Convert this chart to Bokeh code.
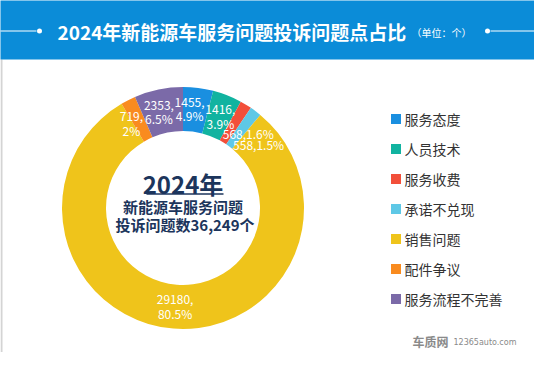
import math
from bokeh.plotting import figure
from bokeh.models import Range1d
from bokeh.core.properties import value
from bokeh.embed import file_html
from bokeh.resources import INLINE

# ---------------- data ----------------
categories = ["服务态度", "人员技术", "服务收费", "承诺不兑现", "销售问题", "配件争议", "服务流程不完善"]
counts = [1455, 1416, 568, 558, 29180, 719, 2353]
percent_labels = ["4.9%", "3.9%", "1.6%", "1.5%", "80.5%", "2%", "6.5%"]
label_wrapped = [True, True, False, False, True, True, True]
colors = ["#1a8fe0", "#11b3a0", "#f24f3a", "#5ec8e6", "#efc41b", "#f98b1f", "#7b6aa8"]
title = "2024年新能源车服务问题投诉问题点占比"
unit = "（单位：个）"
center_year = "2024年"
center_line1 = "新能源车服务问题"
center_line2 = "投诉问题数36,249个"

W, H = 534, 352


def Y(screen_y):
    return H - screen_y


p = figure(width=W, height=H, output_backend="svg", toolbar_location=None,
           x_range=Range1d(0, W), y_range=Range1d(0, H),
           x_axis_location=None, y_axis_location=None, min_border=0)
p.grid.visible = False
p.outline_line_color = None
p.background_fill_color = "white"
p.border_fill_color = "white"

FONT = value("Noto Sans CJK SC")

# ---------------- frame & header ----------------
p.segment(x0=[1], y0=[Y(59)], x1=[1], y1=[Y(360)], line_color="#d4d4d4", line_width=2)
p.quad(left=[-5], right=[560], top=[Y(-5)], bottom=[Y(59)], fill_color="#0b8cd8", line_color=None)
p.segment(x0=[-5, 490], y0=[Y(30.5)] * 2, x1=[36, 560], y1=[Y(30.5)] * 2, line_color="white", line_width=1)
p.scatter(x=[39, 487], y=[Y(30.5)] * 2, size=5, fill_color="white", line_color=None)
p.text(x=[57], y=[Y(31)], text=[title], text_font=FONT, text_font_style="bold",
       text_font_size="19px", text_color="white", text_align="left", text_baseline="middle")
p.text(x=[411], y=[Y(32)], text=[unit], text_font=FONT,
       text_font_size="10px", text_color="white", text_align="left", text_baseline="middle")

# ---------------- donut ----------------
cx, cy = 182.5, Y(207.5)
r_in, r_out = 77, 121
total = sum(counts)
starts, ends, mids = [], [], []
acc = 0
for v in counts:
    f0 = acc / total
    acc += v
    f1 = acc / total
    starts.append(math.pi / 2 - f0 * 2 * math.pi)
    ends.append(math.pi / 2 - f1 * 2 * math.pi)
    mids.append((f0 + f1) / 2 * 360.0)  # degrees clockwise from top

p.annular_wedge(x=cx, y=cy, inner_radius=r_in, outer_radius=r_out,
                start_angle=starts, end_angle=ends, direction="clock",
                fill_color=colors, line_color=None)

# labels inside ring with overlap avoidance
label_lines = []
for c, pc, wr in zip(counts, percent_labels, label_wrapped):
    label_lines.append([f"{c},", pc] if wr else [f"{c},{pc}"])

FS = 12
LH = 13.5


def tw(s):
    w = 0
    for ch in s:
        if ch.isdigit():
            w += 0.55 * FS
        elif ch in ",.":
            w += 0.27 * FS
        elif ch == "%":
            w += 0.85 * FS
        else:
            w += FS
    return w


sizes = [(max(tw(l) for l in ls), LH * (len(ls) - 1) + 11) for ls in label_lines]

R_lab = 99
theta = list(mids)
n = len(label_lines)
wts = [1.0 / c for c in counts]  # smaller slices give way more


def center_of(th):
    a = math.radians(th)
    return cx + R_lab * math.sin(a), cy + R_lab * math.cos(a)


def overlap(i, j, th):
    xi, yi = center_of(th[i])
    xj, yj = center_of(th[j])
    wi, hi = sizes[i]
    wj, hj = sizes[j]
    return abs(xi - xj) < (wi + wj) / 2 + 1 and abs(yi - yj) < (hi + hj) / 2 - 0.5


for _ in range(3000):
    moved = False
    for i in range(n):
        j = (i + 1) % n
        if overlap(i, j, theta):
            s = wts[i] + wts[j]
            theta[i] -= 0.1 * wts[i] / s
            theta[j] += 0.1 * wts[j] / s
            moved = True
    if not moved:
        break

tx, ty, tt = [], [], []
for th, ls in zip(theta, label_lines):
    x0, y0 = center_of(th)
    k = len(ls)
    for m, s in enumerate(ls):
        tx.append(x0)
        ty.append(y0 + (k - 1) * LH / 2 - m * LH)
        tt.append(s)
p.text(x=tx, y=ty, text=tt, text_font=FONT, text_font_size=f"{FS}px",
       text_color="white", text_align="center", text_baseline="middle")

# ---------------- center text ----------------
navy = "#1c355c"
p.text(x=[cx], y=[Y(183)], text=[center_year], text_font=FONT, text_font_style="bold",
       text_font_size="24px", text_color=navy, text_align="center", text_baseline="middle")
p.segment(x0=[146], y0=[Y(193.5)], x1=[223], y1=[Y(193.5)], line_color=navy, line_width=1.5)
p.text(x=[cx], y=[Y(206)], text=[center_line1], text_font=FONT, text_font_style="bold",
       text_font_size="15px", text_color=navy, text_align="center", text_baseline="middle")
p.text(x=[cx + 2], y=[Y(223.5)], text=[center_line2], text_font=FONT, text_font_style="bold",
       text_font_size="15px", text_color=navy, text_align="center", text_baseline="middle")

# ---------------- legend ----------------
leg_y = [Y(118.5 + 30 * i) for i in range(len(categories))]
p.rect(x=[395.5] * len(categories), y=leg_y, width=10, height=10, fill_color=colors, line_color=None)
p.text(x=[404] * len(categories), y=leg_y, text=categories, text_font=FONT,
       text_font_size="14px", text_color="#333333", text_align="left", text_baseline="middle")

# ---------------- watermark ----------------
p.text(x=[412], y=[Y(341)], text=["车质网"], text_font=FONT, text_font_style="bold",
       text_font_size="12px", text_color="#8a8a8a", text_align="left", text_baseline="middle")
p.text(x=[453], y=[Y(342)], text=["12365auto.com"], text_font=value("DejaVu Sans"),
       text_font_size="8px", text_color="#8a8a8a", text_align="left", text_baseline="middle")

open("out.html", "w").write(file_html(p, INLINE))
